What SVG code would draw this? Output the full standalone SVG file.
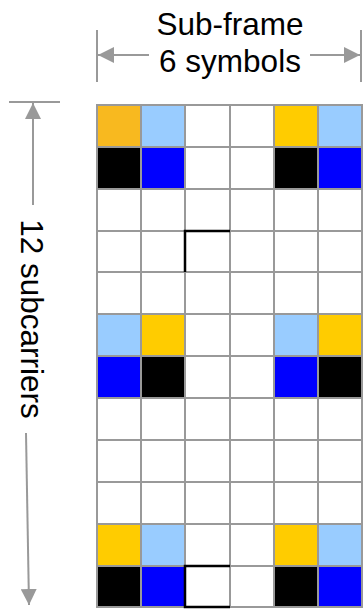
<svg xmlns="http://www.w3.org/2000/svg" width="363" height="611" viewBox="0 0 363 611">
  <defs>
    <marker id="ah" viewBox="0 0 10 10" refX="10" refY="5" markerWidth="10" markerHeight="10" markerUnits="userSpaceOnUse" orient="auto">
      <path d="M0,0 L10,5 L0,10 Z" fill="#999999"/>
    </marker>
    <marker id="ahs" viewBox="0 0 16 16" refX="16" refY="8" markerWidth="16" markerHeight="16" markerUnits="userSpaceOnUse" orient="auto">
      <path d="M0,0 L16,8 L0,16 Z" fill="#999999"/>
    </marker>
  </defs>
  <style>
    .lbl { font-family: "Liberation Sans", Arial, sans-serif; font-size: 31.5px; fill: #000000; }
    .conn { stroke: #999999; stroke-width: 2; fill: none; }
    .cell { stroke: #999999; stroke-width: 2; }
    .w { fill: #FFFFFF; }
    .o { fill: #F8B91F; }
    .y { fill: #FFCC00; }
    .lb { fill: #99CCFF; }
    .b { fill: #0000FF; }
    .k { fill: #000000; }
    .hl { stroke: #000000; stroke-width: 2.5; fill: none; }
  </style>
  <rect width="363" height="611" fill="#FFFFFF"/>

  <g id="label-subframe">
    <text class="lbl" x="230" y="35" text-anchor="middle">Sub-frame</text>
    <text class="lbl" x="230" y="72" text-anchor="middle">6 symbols</text>
  </g>
  <g id="label-subcarriers">
    <text class="lbl" transform="translate(21,319) rotate(90)" text-anchor="middle">12 subcarriers</text>
  </g>

  <g id="connectors">
    <line class="conn" x1="97" y1="30" x2="97" y2="82"/>
    <line class="conn" x1="361" y1="30" x2="361" y2="82"/>
    <line class="conn" x1="149" y1="55" x2="98" y2="55" marker-end="url(#ahs)"/>
    <line class="conn" x1="310" y1="55" x2="360" y2="55" marker-end="url(#ahs)"/>
    <line class="conn" x1="9" y1="102" x2="60" y2="102"/>
    <line class="conn" x1="33" y1="205" x2="33" y2="103" marker-end="url(#ahs)"/>
    <line class="conn" x1="26" y1="433" x2="29" y2="605" marker-end="url(#ahs)"/>
  </g>

  <g id="grid">
    <g id="row0">
      <rect class="cell o" x="97" y="105" width="44" height="42"/>
      <rect class="cell lb" x="141" y="105" width="44" height="42"/>
      <rect class="cell w" x="185" y="105" width="45" height="42"/>
      <rect class="cell w" x="230" y="105" width="44" height="42"/>
      <rect class="cell y" x="274" y="105" width="44" height="42"/>
      <rect class="cell lb" x="318" y="105" width="44" height="42"/>
    </g>
    <g id="row1">
      <rect class="cell k" x="97" y="147" width="44" height="42"/>
      <rect class="cell b" x="141" y="147" width="44" height="42"/>
      <rect class="cell w" x="185" y="147" width="45" height="42"/>
      <rect class="cell w" x="230" y="147" width="44" height="42"/>
      <rect class="cell k" x="274" y="147" width="44" height="42"/>
      <rect class="cell b" x="318" y="147" width="44" height="42"/>
    </g>
    <g id="rows2-4">
      <rect class="cell w" x="97" y="189" width="44" height="42"/>
      <rect class="cell w" x="141" y="189" width="44" height="42"/>
      <rect class="cell w" x="185" y="189" width="45" height="42"/>
      <rect class="cell w" x="230" y="189" width="44" height="42"/>
      <rect class="cell w" x="274" y="189" width="44" height="42"/>
      <rect class="cell w" x="318" y="189" width="44" height="42"/>
      <rect class="cell w" x="97" y="231" width="44" height="41"/>
      <rect class="cell w" x="141" y="231" width="44" height="41"/>
      <rect class="cell w" x="185" y="231" width="45" height="41"/>
      <rect class="cell w" x="230" y="231" width="44" height="41"/>
      <rect class="cell w" x="274" y="231" width="44" height="41"/>
      <rect class="cell w" x="318" y="231" width="44" height="41"/>
      <rect class="cell w" x="97" y="272" width="44" height="42"/>
      <rect class="cell w" x="141" y="272" width="44" height="42"/>
      <rect class="cell w" x="185" y="272" width="45" height="42"/>
      <rect class="cell w" x="230" y="272" width="44" height="42"/>
      <rect class="cell w" x="274" y="272" width="44" height="42"/>
      <rect class="cell w" x="318" y="272" width="44" height="42"/>
    </g>
    <g id="row5">
      <rect class="cell lb" x="97" y="314" width="44" height="42"/>
      <rect class="cell y" x="141" y="314" width="44" height="42"/>
      <rect class="cell w" x="185" y="314" width="45" height="42"/>
      <rect class="cell w" x="230" y="314" width="44" height="42"/>
      <rect class="cell lb" x="274" y="314" width="44" height="42"/>
      <rect class="cell y" x="318" y="314" width="44" height="42"/>
    </g>
    <g id="row6">
      <rect class="cell b" x="97" y="356" width="44" height="42"/>
      <rect class="cell k" x="141" y="356" width="44" height="42"/>
      <rect class="cell w" x="185" y="356" width="45" height="42"/>
      <rect class="cell w" x="230" y="356" width="44" height="42"/>
      <rect class="cell b" x="274" y="356" width="44" height="42"/>
      <rect class="cell k" x="318" y="356" width="44" height="42"/>
    </g>
    <g id="rows7-9">
      <rect class="cell w" x="97" y="398" width="44" height="42"/>
      <rect class="cell w" x="141" y="398" width="44" height="42"/>
      <rect class="cell w" x="185" y="398" width="45" height="42"/>
      <rect class="cell w" x="230" y="398" width="44" height="42"/>
      <rect class="cell w" x="274" y="398" width="44" height="42"/>
      <rect class="cell w" x="318" y="398" width="44" height="42"/>
      <rect class="cell w" x="97" y="440" width="44" height="42"/>
      <rect class="cell w" x="141" y="440" width="44" height="42"/>
      <rect class="cell w" x="185" y="440" width="45" height="42"/>
      <rect class="cell w" x="230" y="440" width="44" height="42"/>
      <rect class="cell w" x="274" y="440" width="44" height="42"/>
      <rect class="cell w" x="318" y="440" width="44" height="42"/>
      <rect class="cell w" x="97" y="482" width="44" height="42"/>
      <rect class="cell w" x="141" y="482" width="44" height="42"/>
      <rect class="cell w" x="185" y="482" width="45" height="42"/>
      <rect class="cell w" x="230" y="482" width="44" height="42"/>
      <rect class="cell w" x="274" y="482" width="44" height="42"/>
      <rect class="cell w" x="318" y="482" width="44" height="42"/>
    </g>
    <g id="row10">
      <rect class="cell y" x="97" y="524" width="44" height="42"/>
      <rect class="cell lb" x="141" y="524" width="44" height="42"/>
      <rect class="cell w" x="185" y="524" width="45" height="42"/>
      <rect class="cell w" x="230" y="524" width="44" height="42"/>
      <rect class="cell y" x="274" y="524" width="44" height="42"/>
      <rect class="cell lb" x="318" y="524" width="44" height="42"/>
    </g>
    <g id="row11">
      <rect class="cell k" x="97" y="566" width="44" height="41"/>
      <rect class="cell b" x="141" y="566" width="44" height="41"/>
      <rect class="cell w" x="185" y="566" width="45" height="41"/>
      <rect class="cell w" x="230" y="566" width="44" height="41"/>
      <rect class="cell k" x="274" y="566" width="44" height="41"/>
      <rect class="cell b" x="318" y="566" width="44" height="41"/>
    </g>
    <g id="highlights">
      <path class="hl" d="M185,272 L185,231 L230,231"/>
      <path class="hl" d="M230,566 L185,566 L185,607 L230,607"/>
    </g>
  </g>
</svg>
